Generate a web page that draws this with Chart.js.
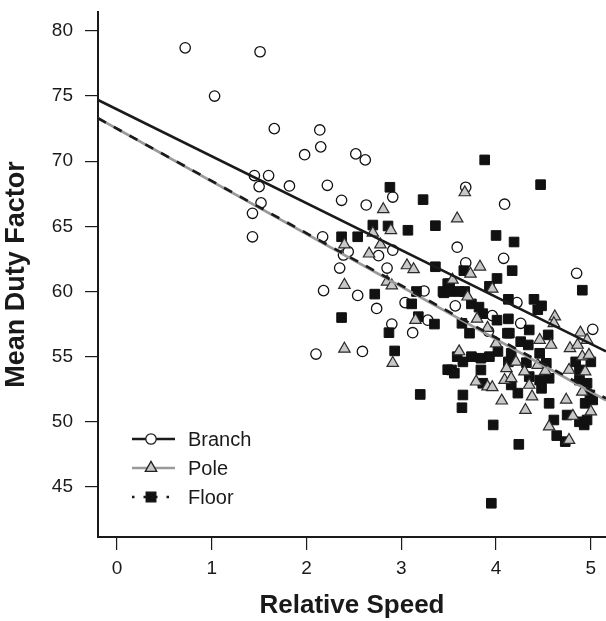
<!DOCTYPE html>
<html>
<head>
<meta charset="utf-8">
<script src="https://cdn.jsdelivr.net/npm/chart.js@4.4.1/dist/chart.umd.min.js"></script>
<style>
  html, body { margin: 0; padding: 0; background: #ffffff; }
  #wrap { width: 606px; height: 621px; }
</style>
</head>
<body>
<div id="wrap"><canvas id="c" width="606" height="621"></canvas></div>
<script>
// ---------- data ----------
const seriesNames = ['Branch', 'Pole', 'Floor'];

const branchX = [0.72,1.51,1.03,1.66,2.14,2.15,1.98,1.45,1.60,1.50,1.82,2.22,2.37,1.52,1.43,1.43,2.17,2.39,2.35,2.18,2.10,2.52,2.62,2.63,2.91,2.44,2.76,2.91,2.85,2.54,3.24,2.74,3.04,3.28,2.90,3.12,2.59,3.68,4.09,3.59,4.08,3.68,4.85,4.22,5.02,3.57,3.96,4.26,3.92];
const branchY = [78.7,78.4,75.0,72.5,72.4,71.1,70.5,68.9,68.9,68.05,68.1,68.15,67.0,66.8,66.0,64.2,64.2,62.8,61.8,60.07,55.2,70.56,70.1,66.64,67.25,63.06,62.75,63.17,61.8,59.7,60.04,58.7,59.15,57.8,57.5,56.84,55.4,68.0,66.7,63.4,62.55,62.2,61.4,59.15,57.1,58.9,58.15,57.56,56.95];

const poleX = [2.40,2.40,2.40,2.81,2.89,2.70,2.78,2.66,3.06,3.13,2.85,2.90,3.15,2.91,3.67,3.59,3.83,3.73,3.96,3.54,3.70,4.62,4.61,4.89,3.80,3.91,4.96,4.46,4.58,4.78,4.86,4.00,3.61,3.79,3.91,3.96,4.06,4.11,4.09,4.16,4.21,4.30,4.35,4.38,4.31,4.44,4.52,4.74,4.56,4.77,4.81,5.00,4.91,4.98,4.77,4.94,4.91];
const poleY = [63.6,60.5,55.6,66.3,64.7,64.5,63.6,62.9,62.0,61.7,60.75,60.45,57.8,54.5,67.6,65.6,61.9,61.35,60.2,60.9,59.6,58.07,57.56,56.84,57.9,57.2,56.28,56.28,55.9,55.64,55.9,56.0,55.4,53.08,52.7,52.65,51.62,54.1,53.2,53.34,54.6,53.85,52.83,51.93,50.9,54.36,53.9,51.68,49.63,48.6,50.45,50.78,55.0,55.13,53.98,53.85,52.3];

const floorX = [2.37,2.37,2.88,3.23,2.70,2.86,3.07,3.36,2.54,3.36,2.72,3.16,3.45,3.49,3.11,3.18,3.35,2.87,2.93,3.49,3.20,3.88,4.47,4.00,4.19,3.66,4.17,4.91,4.01,3.93,3.51,3.44,3.51,3.61,3.67,4.13,4.40,4.48,4.44,3.74,3.82,3.86,4.01,4.13,4.35,4.55,3.72,4.14,3.64,4.34,4.26,4.02,4.16,3.59,3.65,3.74,3.84,3.93,3.53,3.56,3.84,3.86,3.65,3.64,3.97,4.24,3.95,4.13,4.16,4.23,4.32,4.35,4.46,4.46,4.48,4.53,4.56,4.56,4.61,4.64,4.73,4.75,4.88,4.93,4.96,4.94,4.84,5.00,4.88,4.88,4.96,4.99,5.02,4.12];
const floorY = [64.2,58.0,68.0,67.05,65.1,65.03,64.7,65.05,64.2,61.9,59.8,60.0,59.9,60.6,59.05,58.07,57.5,56.84,55.44,54.0,52.1,70.1,68.2,64.3,63.8,61.6,61.6,60.1,61.0,60.4,60.6,60.0,60.0,60.0,60.0,59.4,59.4,58.9,58.6,59.05,58.8,58.3,57.8,57.9,57.05,56.67,56.8,56.8,57.56,55.9,56.15,55.4,55.26,55.0,54.6,55.0,54.88,55.0,53.98,53.73,53.98,52.96,52.06,51.08,49.76,48.27,43.75,54.6,52.83,52.2,54.54,53.47,55.26,53.2,52.57,54.49,53.34,51.42,50.14,48.94,48.48,50.52,50.0,49.76,50.14,51.42,54.6,54.6,53.98,53.2,52.96,52.06,51.68,56.8];

// regression line end points (x, y)
const fitX = [-0.2, 5.16];
const branchFitY = [74.7, 55.4];
const poleFitY = [73.3, 51.65];
const floorFitY = [73.3, 51.8];

const xTicks = [0, 1, 2, 3, 4, 5];
const yTicks = [45, 50, 55, 60, 65, 70, 75, 80];
const xRange = [-0.2, 5.16];
const yRange = [41.16, 81.45];

// ---------- helpers ----------
const pts = (xs, ys) => xs.map((x, i) => ({ x: x, y: ys[i] }));
const FONT = "'Liberation Sans', Arial, Helvetica, sans-serif";
const INK = '#1a1a1a';

const legendPlugin = {
  id: 'rLegend',
  afterDraw(chart) {
    const ctx = chart.ctx;
    const a = chart.chartArea;
    const x0 = a.left + 34, x1 = a.left + 77, xm = a.left + 53, xt = a.left + 90;
    const rows = [a.bottom - 98, a.bottom - 69, a.bottom - 40];
    const styles = [
      { color: INK, dash: [], width: 2.6, point: 'circle', fill: '#ffffff', r: 5.2 },
      { color: '#9a9a9a', dash: [], width: 2.6, point: 'triangle', fill: '#c8c8c8', r: 6.6 },
      { color: INK, dash: [2.5, 9], width: 2.6, point: 'rect', fill: '#111111', r: 6.8 }
    ];
    ctx.save();
    rows.forEach((y, i) => {
      const s = styles[i];
      ctx.beginPath();
      ctx.setLineDash(s.dash);
      ctx.strokeStyle = s.color;
      ctx.lineWidth = s.width;
      ctx.moveTo(x0, y); ctx.lineTo(x1, y);
      ctx.stroke();
      ctx.setLineDash([]);
      ctx.fillStyle = s.fill;
      ctx.strokeStyle = i === 2 ? '#111111' : '#222222';
      ctx.lineWidth = 1.3;
      Chart.helpers.drawPoint(ctx, { pointStyle: s.point, radius: s.r, borderWidth: 1.3 }, xm, y);
      ctx.fillStyle = INK;
      ctx.font = '20px ' + FONT;
      ctx.textBaseline = 'middle';
      ctx.textAlign = 'left';
      ctx.fillText(seriesNames[i], xt, y + 1);
    });
    ctx.restore();
  }
};

new Chart(document.getElementById('c'), {
  type: 'scatter',
  data: {
    datasets: [
      { label: 'Branch fit', data: pts(fitX, branchFitY), showLine: true, pointRadius: 0, borderColor: INK, borderWidth: 2.6, order: 1 },
      { label: 'Pole fit', data: pts(fitX, poleFitY), showLine: true, pointRadius: 0, borderColor: '#9a9a9a', borderWidth: 2.6, order: 2 },
      { label: 'Floor fit', data: pts(fitX, floorFitY), showLine: true, pointRadius: 0, borderColor: INK, borderWidth: 2.6, borderDash: [9, 9], order: 0 },
      { label: 'Pole', data: pts(poleX, poleY), pointStyle: 'triangle', pointRadius: 6.6, backgroundColor: '#c8c8c8', borderColor: '#2a2a2a', borderWidth: 1.2, order: 3 },
      { label: 'Floor', data: pts(floorX, floorY), pointStyle: 'rect', pointRadius: 6.8, backgroundColor: '#111111', borderColor: '#111111', borderWidth: 1, order: 4 },
      { label: 'Branch', data: pts(branchX, branchY), pointStyle: 'circle', pointRadius: 5.2, backgroundColor: '#ffffff', borderColor: '#111111', borderWidth: 1.3, order: 5 }
    ]
  },
  options: {
    responsive: false,
    animation: false,
    devicePixelRatio: 1,
    layout: { autoPadding: false, padding: { top: 12, right: 0, bottom: 0, left: 0 } },
    plugins: { legend: { display: false }, tooltip: { enabled: false } },
    scales: {
      x: {
        type: 'linear', min: xRange[0], max: xRange[1],
        afterBuildTicks: (s) => { s.ticks = xTicks.map(v => ({ value: v })); },
        afterFit: (s) => { s.height = 84; s.paddingLeft = 0; s.paddingRight = 0; },
        border: { display: true, color: INK, width: 2 },
        grid: { display: true, drawOnChartArea: false, drawTicks: true, tickLength: 13, color: INK, lineWidth: 1.2 },
        ticks: { color: INK, font: { family: FONT, size: 19 }, padding: 7, maxRotation: 0 },
        title: { display: true, text: 'Relative Speed', color: INK, font: { family: FONT, size: 26, weight: 'bold' }, padding: { top: 6, bottom: 0 } }
      },
      y: {
        type: 'linear', min: yRange[0], max: yRange[1],
        afterBuildTicks: (s) => { s.ticks = yTicks.map(v => ({ value: v })); },
        afterFit: (s) => { s.width = 98; s.paddingTop = 0; s.paddingBottom = 0; },
        border: { display: true, color: INK, width: 2 },
        grid: { display: true, drawOnChartArea: false, drawTicks: true, tickLength: 13, color: INK, lineWidth: 1.2 },
        ticks: { color: INK, font: { family: FONT, size: 19 }, padding: 12 },
        title: { display: true, text: 'Mean Duty Factor', color: INK, font: { family: FONT, size: 27, weight: 'bold' }, padding: { top: 0, bottom: 0 } }
      }
    }
  },
  plugins: [legendPlugin]
});
</script>
</body>
</html>
